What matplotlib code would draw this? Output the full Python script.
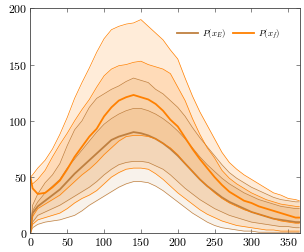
import matplotlib.pyplot as plt

plt.rcParams['font.family'] = 'cmr10'
plt.rcParams['mathtext.fontset'] = 'cm'
plt.rcParams['axes.formatter.use_mathtext'] = True

# day of year
days = [0, 3] + list(range(10, 370, 10)) + [365]

# P(x_E): outer band, inner band, median
e_lo = [0, 5, 8, 10, 11, 12, 14, 16, 20, 25, 29, 33, 37, 41, 44, 46, 46, 45, 42, 38,
        33, 28, 23, 18, 14, 10, 7, 5, 4, 3, 2, 2, 1, 1, 1, 1, 1, 1, 1]
e_q1 = [0, 10, 16, 19, 22, 25, 29, 33, 37, 41, 46, 52, 57, 61, 63, 64, 64, 63, 60, 57,
        52, 46, 40, 35, 30, 26, 22, 19, 16, 14, 12, 10, 9, 8, 7, 6, 6, 5, 5]
e_med = [0, 18, 24, 29, 34, 39, 46, 53, 59, 65, 71, 77, 83, 86, 88, 90, 89, 87, 84, 80,
         75, 69, 62, 55, 48, 42, 37, 32, 28, 25, 22, 19, 17, 15, 13, 12, 11, 10, 10]
e_q3 = [0, 20, 28, 36, 42, 48, 58, 66, 74, 82, 90, 97, 102, 106, 109, 111, 111, 109, 106, 102,
        97, 91, 84, 76, 68, 61, 55, 49, 44, 40, 36, 33, 30, 28, 26, 24, 23, 22, 22]
e_hi = [0, 25, 35, 45, 52, 62, 78, 92, 100, 112, 120, 124, 128, 131, 135, 138, 136, 134, 128, 124,
        118, 112, 104, 94, 85, 77, 69, 61, 54, 49, 45, 41, 38, 35, 32, 30, 29, 28, 28]

# P(x_f)
f_lo = [0, 8, 12, 14, 16, 18, 22, 27, 31, 34, 38, 44, 50, 54, 57, 58, 58, 57, 53, 48,
        42, 36, 31, 26, 21, 17, 14, 11, 9, 7, 6, 5, 4, 3, 3, 2, 2, 2, 2]
f_q1 = [5, 15, 22, 26, 30, 34, 40, 46, 52, 57, 63, 70, 76, 82, 86, 87, 87, 86, 84, 80,
        76, 70, 62, 55, 48, 42, 36, 31, 27, 24, 21, 19, 17, 15, 13, 11, 10, 9, 9]
f_med = [50, 40, 35, 36, 41, 47, 57, 68, 77, 86, 93, 104, 112, 118, 121, 123, 121, 119, 115, 109,
         101, 95, 85, 75, 66, 58, 50, 43, 37, 33, 29, 27, 24, 22, 20, 18, 16, 14, 14]
f_q3 = [45, 44, 48, 56, 68, 79, 89, 100, 110, 119, 130, 140, 146, 149, 150, 152, 153, 150, 148, 146,
        142, 130, 118, 102, 88, 76, 67, 56, 49, 44, 40, 36, 33, 30, 28, 26, 25, 24, 24]
f_hi = [50, 52, 58, 65, 75, 88, 103, 120, 134, 147, 161, 173, 181, 184, 186, 187, 190, 184, 178, 172,
        163, 155, 138, 122, 108, 96, 84, 72, 63, 57, 52, 48, 44, 40, 36, 34, 31, 30, 29]

brown = '#bf8040'
orange = '#ff8000'

fig = plt.figure(figsize=(3.04, 2.52), dpi=100)
ax = fig.add_axes([0.100, 0.074, 0.887, 0.893])

series = [(e_lo, e_q1, e_med, e_q3, e_hi, brown, 0.1, '$P(x_E)$'),
          (f_lo, f_q1, f_med, f_q3, f_hi, orange, 0.15, '$P(x_f)$')]
for lo, q1, med, q3, hi, c, a, lab in series:
    ax.fill_between(days, lo, hi, color=c, alpha=a, lw=0)
    ax.fill_between(days, q1, q3, color=c, alpha=a, lw=0)
    for s in (lo, q1, q3, hi):
        ax.plot(days, s, color=c, lw=0.5)
    ax.plot(days, med, color=c, lw=1.3, label=lab)

ax.set_xlim(0, 366)
ax.set_ylim(0, 200)
ax.set_xticks(range(0, 351, 50))
ax.set_yticks(range(0, 201, 50))
ax.tick_params(direction='in', top=True, right=True, length=3, width=0.5,
               labelsize=8.5, color='#555555', pad=2)
for sp in ax.spines.values():
    sp.set_linewidth(0.6)
    sp.set_color('#444444')

ax.legend(loc='upper right', bbox_to_anchor=(0.955, 0.95), ncol=2, frameon=False,
          fontsize=6.3, handlelength=2.4, columnspacing=0.8, handletextpad=0.5)

fig.savefig('out.png', dpi=100)
